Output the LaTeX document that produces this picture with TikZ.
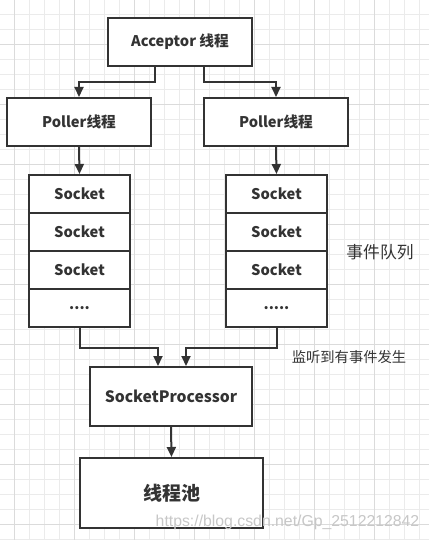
\documentclass[tikz,border=0pt]{standalone}
\usepackage{fontspec}
\setmainfont{Noto Sans CJK SC}
\newfontfamily\urlfont{Liberation Sans}
\usepackage{tikz}
\usetikzlibrary{arrows.meta}

\definecolor{ink}{HTML}{333333}

\begin{document}
\begin{tikzpicture}[
            x=1pt, y=-1pt,
            box node/.style={draw=ink, line width=2pt, fill=white, inner sep=0pt, text=ink,
                font=\fontsize{14.7}{17}\selectfont\bfseries},
            cell node/.style={box node, minimum width=101pt, minimum height=38pt},
            line/.style={draw=ink, line width=2pt, -{Triangle[width=9pt,length=10pt]}},
            minor/.style={draw=black!8, line width=1pt},
            major/.style={draw=black!14, line width=1pt},
            ]
            \useasboundingbox (0,0) rectangle (429,540);
            \fill[white] (0,0) rectangle (429,540);

            % grid
            \foreach \i in {0,...,27} \draw[minor] ({14.7+15*\i},0) -- ({14.7+15*\i},540);
            \foreach \i in {0,...,35} \draw[minor] (0,{14.7+15*\i}) -- (429,{14.7+15*\i});
            \foreach \i in {0,...,6} \draw[major] ({14.7+60*\i},0) -- ({14.7+60*\i},540);
            \foreach \i in {0,...,8} \draw[major] (0,{44.7+60*\i}) -- (429,{44.7+60*\i});

            \node[box node, minimum width=144pt, minimum height=48pt] (acc) at (180,42) {Acceptor 线程};
            \node[box node, minimum width=144pt, minimum height=48pt] (pl) at (79,122) {Poller线程};
            \node[box node, minimum width=144pt, minimum height=48pt] (pr) at (276,122) {Poller线程};

            \node[cell node] (l1) at (79.5,194) {Socket};
            \node[cell node] (l2) at (79.5,232) {Socket};
            \node[cell node] (l3) at (79.5,270) {Socket};
            \node[cell node] (l4) at (79.5,308) {....};
            \node[cell node] (r1) at (276.5,194) {Socket};
            \node[cell node] (r2) at (276.5,232) {Socket};
            \node[cell node] (r3) at (276.5,270) {Socket};
            \node[cell node] (r4) at (276.5,308) {.....};

            \node[box node, minimum width=162pt, minimum height=59pt, font=\fontsize{15.7}{18}\selectfont\bfseries] (sp) at (171,396.5) {SocketProcessor};
            \node[box node, minimum width=183pt, minimum height=70pt, font=\fontsize{19}{21}\selectfont\bfseries] (pool) at (171.5,493) {线程池};

            \node[text=ink, font=\fontsize{16.8}{19}\selectfont] (queue) at (380,252) {事件队列};
            \node[text=ink, font=\fontsize{14.3}{17}\selectfont] (event) at (349,357) {监听到有事件发生};
            \node[text=black!22, font=\urlfont\fontsize{15.8}{18}\selectfont] (mark) at (287.5,522) {https://blog.csdn.net/Gp\_2512212842};

            \draw[line] ([xshift=-25pt]acc.south) -- ++(0,15) -| (pl.north);
            \draw[line] ([xshift=24pt]acc.south) -- ++(0,15) -| (pr.north);
            \draw[line] (pl.south) -- (l1.north);
            \draw[line] (pr.south) -- (r1.north);
            \draw[line] (l4.south) -- ++(0,20) -| ([xshift=-13pt]sp.north);
            \draw[line] (r4.south) -- ++(0,20) -| ([xshift=15pt]sp.north);
            \draw[line] (sp.south) -- (pool.north);
        \end{tikzpicture}
\end{document}
